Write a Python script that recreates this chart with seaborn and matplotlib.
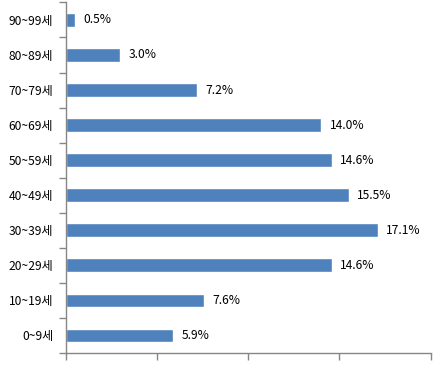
import numpy as np
import pandas as pd
import seaborn as sns
import matplotlib.pyplot as plt
from matplotlib.ticker import FixedLocator

age_groups = ["90~99세", "80~89세", "70~79세", "60~69세", "50~59세",
              "40~49세", "30~39세", "20~29세", "10~19세", "0~9세"]
shares = [0.5, 3.0, 7.2, 14.0, 14.6, 15.5, 17.1, 14.6, 7.6, 5.9]

df = pd.DataFrame({"age": age_groups, "share": shares})

sns.set_theme(style="white")
plt.rcParams['font.family'] = ['Noto Sans CJK KR', 'DejaVu Sans']

fig = plt.figure(figsize=(4.46, 3.66), dpi=100)
ax = fig.add_axes([0.1473, 0.0363, 0.8184, 0.957])

sns.barplot(data=df, x="share", y="age", orient="h", color="#4F81BD",
            saturation=1, width=0.38, ax=ax)

# value labels just right of each bar
for i, v in enumerate(shares):
    ax.annotate(f"{v:.1f}%", xy=(v, i), xytext=(6, 0), textcoords="offset points",
                ha="left", va="center", fontsize=8.7, color="black")

ax.set_xlim(0, 20)
ax.set_ylim(len(age_groups) - 0.5, -0.5)
ax.set_xticks([0, 5, 10, 15, 20])
ax.set_xticklabels([])
ax.set_xlabel("")
ax.set_ylabel("")

# tick marks between categories, labels centred on bars
ax.yaxis.set_minor_locator(FixedLocator(np.arange(-0.5, len(age_groups), 1)))
ax.tick_params(axis="y", which="major", length=0, labelsize=8.7, pad=9, labelcolor="black")
ax.tick_params(axis="y", which="minor", length=5, width=1, color="#868686", direction="out", left=True)
ax.tick_params(axis="x", which="major", length=5, width=1, color="#868686", direction="out", bottom=True)

for side in ["top", "right"]:
    ax.spines[side].set_visible(False)
for side in ["left", "bottom"]:
    ax.spines[side].set_color("#868686")
    ax.spines[side].set_linewidth(1)

fig.savefig("out.png", dpi=100)
